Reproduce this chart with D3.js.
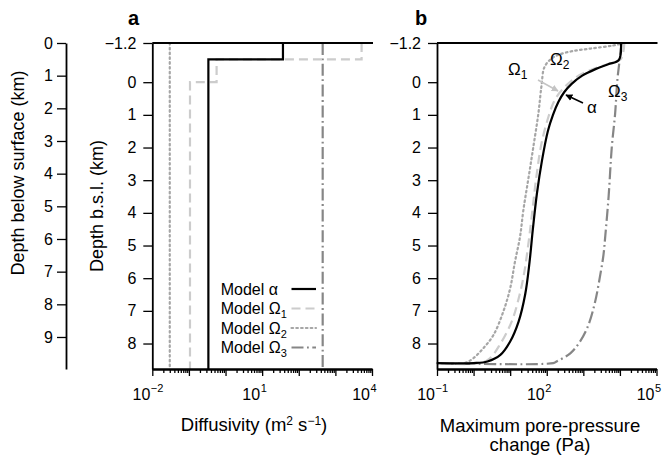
<!DOCTYPE html>
<html><head><meta charset="utf-8">
<script src="https://cdn.jsdelivr.net/npm/d3@7"></script>
<style>
body{margin:0;background:#fff}
svg text{font-family:"Liberation Sans",Arial,Helvetica,sans-serif;fill:#000}
</style>
</head><body>
<svg id="c" width="663" height="457"></svg>
<script>
// ---------------- data ----------------
const depthTicksBsl = [-1.2, 0, 1, 2, 3, 4, 5, 6, 7, 8];
const depthTicksSurface = [0, 1, 2, 3, 4, 5, 6, 7, 8, 9];
const diffTickLabels = [1e-2, 1e1, 1e4];
const pressTickLabels = [1e-1, 1e2, 1e5];
const legendNames = ["α", "Ω1", "Ω2", "Ω3"];

// diffusivity step profiles: [top depth km, bottom depth km, diffusivity m2/s]
const diffAlpha  = [[-1.2, -0.7, 37], [-0.7, 8.78, 0.34]];
const diffOmega1 = [[-1.2, -0.7, 5200], [-0.7, 0, 0.57], [0, 8.78, 0.107]];
const diffOmega2 = [[-1.2, 8.78, 0.03]];
const diffOmega3 = [[-1.2, 8.78, 450]];

// maximum pore-pressure change profiles: [depth km, pressure Pa]
const pressAlpha = [[-1.2,10700],[-0.68,9330],[-0.55,4790],[-0.4,2140],[-0.2,933],[0.05,479],[0.3,302],[0.6,209],[1.0,148],[1.5,107],[2.4,74],[3.4,54],[4.5,41.7],[5.5,33.9],[6.5,25.7],[7.33,17],[7.94,10],[8.35,5.4],[8.55,2.4],[8.6,1.0],[8.6,0.1]];
const pressOmega1 = [[-1.2,13200],[-0.7,10500],[-0.55,4470],[-0.35,1410],[-0.15,630],[0.18,290],[0.54,166],[1.05,112],[1.87,72],[2.9,52],[4.2,38],[5.0,31],[5.8,24.5],[6.5,18.2],[7.33,11],[8.04,5.2],[8.45,2.8],[8.6,1.5],[8.6,0.1]];
const pressOmega2 = [[-1.2,13200],[-1.12,6300],[-1.03,1580],[-0.95,500],[-0.85,224],[-0.73,138],[-0.47,87],[0.1,72],[0.96,59],[1.98,43],[2.9,32],[3.91,23],[4.73,18.6],[5.5,13.5],[6.31,10],[7.02,6.5],[7.74,3.5],[8.14,1.86],[8.45,0.98],[8.6,0.56],[8.6,0.1]];
const pressOmega3 = [[-1.2,11000],[-0.67,9800],[-0.06,8500],[0.96,7400],[1.98,6000],[3.51,4900],[4.68,4000],[5.29,3550],[5.90,2900],[6.72,2100],[7.43,1380],[7.94,810],[8.30,440],[8.55,186],[8.60,150],[8.60,0.1]];

// ---------------- styles ----------------
const styles = {
  "α":  {stroke:"#000",    dash:null,            width:2.2},
  "Ω1": {stroke:"#cccccc", dash:"9,5",           width:2.2},
  "Ω2": {stroke:"#a6a6a6", dash:"1.6,3.2",       width:2.2, cap:"round"},
  "Ω3": {stroke:"#868686", dash:"12,3.5,1.8,3.5", width:2.2}
};

const svg = d3.select("#c");
const plotTop = 43, plotBottom = 369;
const yBsl = d3.scaleLinear().domain([-1.2, 8.78]).range([plotTop, plotBottom]);
const ySurf = d3.scaleLinear().domain([0, 9.98]).range([plotTop, plotBottom]);
const xa = d3.scaleLog().domain([1e-2, 1e4]).range([152.3, 372]);
const xb = d3.scaleLog().domain([1e-1, 1e5]).range([437, 656.5]);

function applyStyle(sel, name) {
  const s = styles[name];
  sel.attr("fill", "none").attr("stroke", s.stroke).attr("stroke-width", s.width);
  if (s.dash) sel.attr("stroke-dasharray", s.dash);
  if (s.cap) sel.attr("stroke-linecap", s.cap);
  return sel;
}

function styleAxis(g) {
  g.selectAll("path.domain").attr("stroke", "#000").attr("stroke-width", 1.8);
  g.selectAll(".tick line").attr("stroke", "#000").attr("stroke-width", 1.3);
  g.selectAll(".tick text").style("font-size", "16px").attr("fill", "#000");
  g.attr("font-family", null).attr("font-size", null);
}

// ---------- left surface axis ----------
const gS = svg.append("g").attr("transform", "translate(66,0)")
  .call(d3.axisLeft(ySurf).tickValues(depthTicksSurface).tickSize(9).tickSizeOuter(0).tickPadding(4).tickFormat(d3.format("d")));
styleAxis(gS);
svg.append("text").attr("transform", "translate(24,173) rotate(-90)")
  .attr("text-anchor", "middle").style("font-size", "18px").text("Depth below surface (km)");

// ---------- log axis helper ----------
function logAxis(xs, lo, hi, labels) {
  const majors = [], minors = [];
  for (let e = lo; e <= hi; e++) {
    majors.push(Math.pow(10, e));
    if (e < hi) for (let m = 2; m <= 9; m++) minors.push(m * Math.pow(10, e));
  }
  const gMin = svg.append("g").attr("transform", `translate(0,${plotBottom})`)
    .call(d3.axisBottom(xs).tickValues(minors).tickSize(4).tickSizeOuter(0).tickFormat(""));
  styleAxis(gMin);
  const gMaj = svg.append("g").attr("transform", `translate(0,${plotBottom})`)
    .call(d3.axisBottom(xs).tickValues(majors).tickSize(7).tickSizeOuter(0).tickFormat(""));
  styleAxis(gMaj);
  labels.forEach(v => {
    const x = xs(v) - 2;
    const ex = Math.round(Math.log10(v));
    svg.append("text").attr("x", x).attr("y", 400).attr("text-anchor", "end")
      .style("font-size", "16px").text("10");
    svg.append("text").attr("x", x + 0.5).attr("y", 392).attr("text-anchor", "start")
      .style("font-size", "11px").text(ex < 0 ? "\u2212" + (-ex) : String(ex));
  });
}

function depthAxis(x0, xs) {
  const g = svg.append("g").attr("transform", `translate(${x0},0)`)
    .call(d3.axisLeft(yBsl).tickValues(depthTicksBsl).tickSize(9).tickSizeOuter(0).tickPadding(7)
      .tickFormat(d => d === -1.2 ? "\u22121.2" : d3.format("d")(d)));
  styleAxis(g);
  svg.append("line").attr("x1", xs.range()[0]).attr("x2", xs.range()[1] + 1)
    .attr("y1", plotTop).attr("y2", plotTop).attr("stroke", "#000").attr("stroke-width", 2);
}

// ---------- panel a ----------
const stepLine = d3.line().x(d => xa(d[1])).y(d => yBsl(d[0]));
function stepPoints(prof) {
  const pts = [];
  prof.forEach(seg => { pts.push([seg[0], seg[2]]); pts.push([seg[1], seg[2]]); });
  return pts;
}
const diffProfiles = {"Ω3": diffOmega3, "Ω2": diffOmega2, "Ω1": diffOmega1, "α": diffAlpha};
Object.entries(diffProfiles).forEach(([name, prof]) => {
  applyStyle(svg.append("path").attr("d", stepLine(stepPoints(prof))), name);
});
depthAxis(152.3, xa);
logAxis(xa, -2, 4, diffTickLabels);

svg.append("text").attr("transform", "translate(103,206) rotate(-90)")
  .attr("text-anchor", "middle").style("font-size", "18px").text("Depth b.s.l. (km)");
const tA = svg.append("text").attr("x", 254).attr("y", 431).attr("text-anchor", "middle").style("font-size", "18.5px");
tA.append("tspan").text("Diffusivity (m");
tA.append("tspan").attr("dy", -6).style("font-size", "12px").text("2");
tA.append("tspan").attr("dy", 6).text(" s");
tA.append("tspan").attr("dy", -6).style("font-size", "12px").text("\u22121");
tA.append("tspan").attr("dy", 6).text(")");

// legend
legendNames.forEach((name, i) => {
  const yb = 294.5 + i * 19.5;
  const t = svg.append("text").attr("x", 220.7).attr("y", yb).style("font-size", "16px");
  t.append("tspan").text("Model " + name[0]);
  if (name.length > 1) t.append("tspan").attr("dy", 4).style("font-size", "11px").text(name.slice(1));
  applyStyle(svg.append("line").attr("x1", 291.5).attr("x2", 316).attr("y1", yb - 5.5).attr("y2", yb - 5.5), name);
});

// ---------- panel b ----------
const pLine = d3.line().curve(d3.curveCatmullRom.alpha(0.5)).x(d => xb(d[1])).y(d => yBsl(d[0]));
const pressProfiles = {"Ω3": pressOmega3, "Ω2": pressOmega2, "Ω1": pressOmega1, "α": pressAlpha};
Object.entries(pressProfiles).forEach(([name, prof]) => {
  applyStyle(svg.append("path").attr("d", pLine(prof)), name);
});
depthAxis(437, xb);
logAxis(xb, -1, 5, pressTickLabels);

svg.append("text").attr("x", 540).attr("y", 432).attr("text-anchor", "middle").style("font-size", "18.5px").text("Maximum pore-pressure");
svg.append("text").attr("x", 540).attr("y", 451).attr("text-anchor", "middle").style("font-size", "18.5px").text("change (Pa)");

// annotations
function omegaLabel(x, y, sub) {
  const t = svg.append("text").attr("x", x).attr("y", y).style("font-size", "17px");
  t.append("tspan").text("Ω");
  t.append("tspan").attr("dy", 4).style("font-size", "12px").text(sub);
}
omegaLabel(508, 74.5, "1");
omegaLabel(550, 64.5, "2");
omegaLabel(608, 97, "3");
svg.append("text").attr("x", 587).attr("y", 113).style("font-size", "17px").text("α");

const defs = svg.append("defs");
[["arrK", "#000"], ["arrG", "#c4c4c4"]].forEach(([id, c]) => {
  defs.append("marker").attr("id", id).attr("viewBox", "0 0 10 10").attr("refX", 9).attr("refY", 5)
    .attr("markerWidth", 7).attr("markerHeight", 7).attr("markerUnits", "userSpaceOnUse").attr("orient", "auto")
    .append("path").attr("d", "M0,0 L10,5 L0,10 Z").attr("fill", c);
});
svg.append("line").attr("x1", 583).attr("y1", 103).attr("x2", 566).attr("y2", 95)
  .attr("stroke", "#000").attr("stroke-width", 1.5).attr("marker-end", "url(#arrK)");
svg.append("line").attr("x1", 538).attr("y1", 80).attr("x2", 558).attr("y2", 91)
  .attr("stroke", "#c4c4c4").attr("stroke-width", 1.5).attr("marker-end", "url(#arrG)");

// panel letters
svg.append("text").attr("x", 128).attr("y", 25).style("font-size", "20px").style("font-weight", "bold").text("a");
svg.append("text").attr("x", 415).attr("y", 25).style("font-size", "20px").style("font-weight", "bold").text("b");
</script>
</body></html>
